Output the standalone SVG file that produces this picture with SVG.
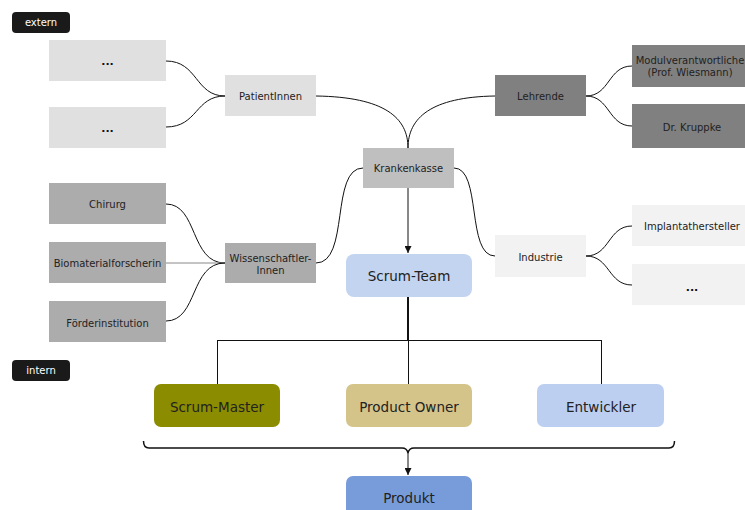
<svg xmlns="http://www.w3.org/2000/svg" width="745" height="510" viewBox="0 0 745 510">
<defs>
<marker id="arr" viewBox="0 0 10 10" refX="10" refY="5" markerWidth="7" markerHeight="7" orient="auto" markerUnits="userSpaceOnUse"><path d="M0,0 L10,5 L0,10 z" fill="#111"/></marker>
</defs>
<style>
text{font-family:"DejaVu Sans","Liberation Sans",sans-serif;fill:#222;text-anchor:middle;dominant-baseline:central}
.s{font-size:10px}
.d{font-size:11px;font-weight:bold;fill:#111}
.b{font-size:13.5px}
.tag text{fill:#fff;font-size:10px}
.c{fill:none;stroke:#111;stroke-width:1}
.l1{fill:#e0e0e0}.l2{fill:#bfbfbf}.l3{fill:#808080}.l4{fill:#acacac}.l5{fill:#f2f2f2}
</style>
<rect width="745" height="510" fill="#fff"/>
<g id="extern" class="tag"><rect x="12" y="12" width="58" height="21" rx="4" fill="#1a1a1a"/><text x="41" y="22.5">extern</text></g>
<g id="intern" class="tag"><rect x="12" y="360" width="58" height="21" rx="4" fill="#1a1a1a"/><text x="41" y="370.5">intern</text></g>
<g id="connectors">
<path class="c" d="M166,61 C198,61 195,96 225,96"/>
<path class="c" d="M166,127 C198,127 195,96 225,96"/>
<path class="c" d="M316,96 C385,97 408,118 408,148"/>
<path class="c" d="M495,96 C431,97 408,118 408,148"/>
<path class="c" d="M586,96 C610,96 608,66 632,66"/>
<path class="c" d="M586,96 C610,96 608,126 632,126"/>
<path class="c" d="M166,204 C198,204 190,263 225,263"/>
<path stroke="#888" stroke-width="1" d="M166,263 H225"/>
<path class="c" d="M166,321 C198,321 190,263 225,263"/>
<path class="c" d="M316,263 C350,263 330,168 363,168"/>
<path class="c" d="M454,168 C482,168 466,256 495,256"/>
<path class="c" d="M586,256 C610,256 608,226 632,226"/>
<path class="c" d="M586,256 C610,256 608,285 632,285"/>
<path class="c" d="M408,188 V253" marker-end="url(#arr)"/>
<path fill="none" stroke="#111" stroke-width="2" d="M408,297 V340"/>
<path class="c" d="M217,340.5 H601 M217.5,340 V384 M408.5,340 V384 M601.5,340 V384"/>
<path fill="none" stroke="#111" stroke-width="1.5" d="M143.5,441 Q143.5,448 149,448 H402 Q407,448 408,453 Q409,448 414,448 H669 Q674.5,448 674.5,441"/>
<path class="c" d="M408,453 V475" marker-end="url(#arr)"/>
</g>
<g id="dots1"><rect class="l1" x="49" y="40" width="117" height="41"/><text class="d" x="107.5" y="61">...</text></g>
<g id="dots2"><rect class="l1" x="49" y="107" width="117" height="41"/><text class="d" x="107.5" y="128">...</text></g>
<g id="patientinnen"><rect class="l1" x="225" y="75" width="91" height="41"/><text class="s" x="270.5" y="96">PatientInnen</text></g>
<g id="krankenkasse"><rect class="l2" x="363" y="148" width="91" height="40"/><text class="s" x="408.5" y="168">Krankenkasse</text></g>
<g id="lehrende"><rect class="l3" x="495" y="75" width="91" height="41"/><text class="s" x="540.5" y="96">Lehrende</text></g>
<g id="modul"><rect class="l3" x="632" y="45" width="117" height="42"/><text class="s" x="690" y="60">Modulverantwortliche</text><text class="s" x="690" y="72">(Prof. Wiesmann)</text></g>
<g id="kruppke"><rect class="l3" x="632" y="104" width="117" height="44"/><text class="s" x="692" y="127">Dr. Kruppke</text></g>
<g id="chirurg"><rect class="l4" x="49" y="183" width="117" height="41"/><text class="s" x="107.5" y="204">Chirurg</text></g>
<g id="biomaterial"><rect class="l4" x="49" y="242" width="117" height="41"/><text class="s" x="107.5" y="263">Biomaterialforscherin</text></g>
<g id="foerder"><rect class="l4" x="49" y="301" width="117" height="41"/><text class="s" x="107.5" y="323">Förderinstitution</text></g>
<g id="wissenschaftler"><rect class="l4" x="225" y="243" width="91" height="40"/><text class="s" x="270.5" y="258">Wissenschaftler-</text><text class="s" x="270.5" y="270">Innen</text></g>
<g id="industrie"><rect class="l5" x="495" y="235" width="91" height="42"/><text class="s" x="540.5" y="257">Industrie</text></g>
<g id="implantat"><rect class="l5" x="632" y="205" width="117" height="41"/><text class="s" x="692" y="226">Implantathersteller</text></g>
<g id="dots3"><rect class="l5" x="632" y="264" width="117" height="41"/><text class="d" x="692" y="287">...</text></g>
<g id="scrumteam"><rect x="346" y="254" width="126" height="43" rx="8" fill="#c2d4ef"/><text class="b" x="409" y="276">Scrum-Team</text></g>
<g id="scrummaster"><rect x="154" y="384" width="126" height="43" rx="7" fill="#8c8c00"/><text class="b" x="217" y="407">Scrum-Master</text></g>
<g id="productowner"><rect x="346" y="384" width="126" height="43" rx="7" fill="#d4c48a"/><text class="b" x="409" y="407">Product Owner</text></g>
<g id="entwickler"><rect x="537" y="384" width="127" height="43" rx="7" fill="#bccff0"/><text class="b" x="601" y="407">Entwickler</text></g>
<g id="produkt"><rect x="346" y="476" width="126" height="50" rx="7" fill="#789cda"/><text class="b" x="409" y="498">Produkt</text></g>
</svg>
